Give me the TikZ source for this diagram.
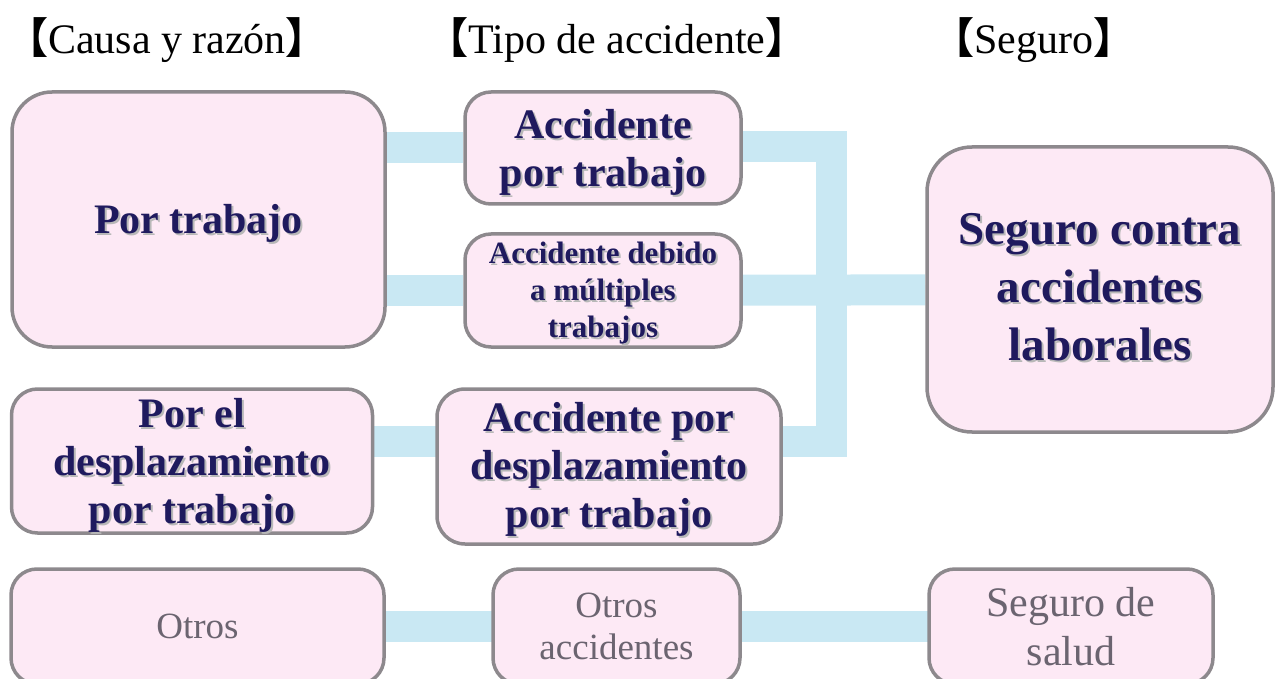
\documentclass[tikz,border=0pt]{standalone}
\usepackage{fontspec}
\setmainfont{Liberation Serif}
\newfontfamily\cjk{Noto Sans CJK JP}
\usetikzlibrary{backgrounds}
\definecolor{navy}{HTML}{1F1A5E}
\definecolor{gtxt}{HTML}{6B6470}
\definecolor{pinkfill}{HTML}{FDE9F5}
\definecolor{bordergray}{HTML}{8D898D}
\definecolor{conncol}{HTML}{C9E8F3}
\newcommand\shd[1]{\leavevmode\rlap{\hspace{2pt}\raisebox{-2pt}{\textcolor{black!28}{#1}}}#1}
\newcommand\lb{{\cjk\bfseries 【}}
\newcommand\rb{{\cjk\bfseries 】}}
\tikzset{
  box/.style={draw=bordergray, line width=3.5pt, fill=pinkfill, rounded corners=26pt,
              inner sep=0pt},
  txt/.style={inner sep=0pt, align=center},
  bigtxt/.style={txt, text=navy, font=\fontsize{42}{48}\selectfont\bfseries},
  smalltxt/.style={txt, text=navy, font=\fontsize{31}{37}\selectfont\bfseries},
  hugetxt/.style={txt, text=navy, font=\fontsize{47}{58}\selectfont\bfseries},
  graytxt/.style={txt, text=gtxt, font=\fontsize{37}{42}\selectfont},
  gray2txt/.style={txt, text=gtxt, font=\fontsize{42}{49}\selectfont},
  header/.style={anchor=base, inner sep=0pt, font=\fontsize{42}{48}\selectfont},
  conn/.style={draw=conncol, line width=31pt},
}
\begin{document}
\begin{tikzpicture}[x=1pt,y=-1pt]
\useasboundingbox (0,0) rectangle (1275,679);
\clip (0,0) rectangle (1275,679);

% headers
\node[header] (h1) at (167,54) {\lb Causa y razón\rb};
\node[header] (h2) at (617,54) {\lb Tipo de accidente\rb};
\node[header] (h3) at (1034,54) {\lb Seguro\rb};

% boxes
\node[box, rounded corners=40pt, minimum width=373pt, minimum height=255pt] (b1) at (198.5,219.5) {};
\node[box, minimum width=276pt, minimum height=112pt] (b2) at (603,148) {};
\node[box, minimum width=276pt, minimum height=113pt] (b3) at (603,290.5) {};
\node[box, minimum width=361pt, minimum height=144pt] (b4) at (192,461) {};
\node[box, rounded corners=28pt, minimum width=344pt, minimum height=155pt] (b5) at (609,466.5) {};
\node[box, rounded corners=45pt, minimum width=346pt, minimum height=285pt] (b9) at (1100,289.5) {};
\node[box, minimum width=373pt, minimum height=115pt] (b6) at (197.5,626.5) {};
\node[box, minimum width=247pt, minimum height=115pt] (b7) at (616.5,626.5) {};
\node[box, minimum width=284pt, minimum height=115pt] (b8) at (1071,626.5) {};

% texts
\node[bigtxt] (t1) at ([yshift=-5pt]b1) {\shd{Por trabajo}};
\node[bigtxt] (t2) at ([yshift=-5pt]b2) {\shd{Accidente}\\\shd{por trabajo}};
\node[smalltxt] (t3) at ([yshift=-4pt]b3) {\shd{Accidente debido}\\\shd{a múltiples}\\\shd{trabajos}};
\node[bigtxt] (t4) at ([yshift=-5pt]b4) {\shd{Por el}\\\shd{desplazamiento}\\\shd{por trabajo}};
\node[bigtxt] (t5) at ([yshift=-4pt]b5) {\shd{Accidente por}\\\shd{desplazamiento}\\\shd{por trabajo}};
\node[hugetxt] (t9) at ([yshift=1pt]b9) {\shd{Seguro contra}\\\shd{accidentes}\\\shd{laborales}};
\node[graytxt] (t6) at (b6) {Otros};
\node[graytxt] (t7) at (b7) {Otros\\accidentes};
\node[gray2txt] (t8) at (b8) {Seguro de\\salud};

\coordinate (j1) at (831,147);
\coordinate (j3) at (831,441);
\coordinate (by) at (0,626);

\begin{scope}[on background layer]
\draw[conn] (b1.center |- b2) -- (b2);
\draw[conn] (b1.center |- b3) -- (b3);
\draw[conn] (b3) -- (b9);
\draw[conn] (b2.center |- j1) -- (j1) -- (j3) -- (b5.center |- j3);
\draw[conn] (b4.center |- j3) -- (b5.center |- j3);
\draw[conn] (b6.center |- by) -- (b7.center |- by) -- (b8.center |- by);
\end{scope}
\end{tikzpicture}
\end{document}
